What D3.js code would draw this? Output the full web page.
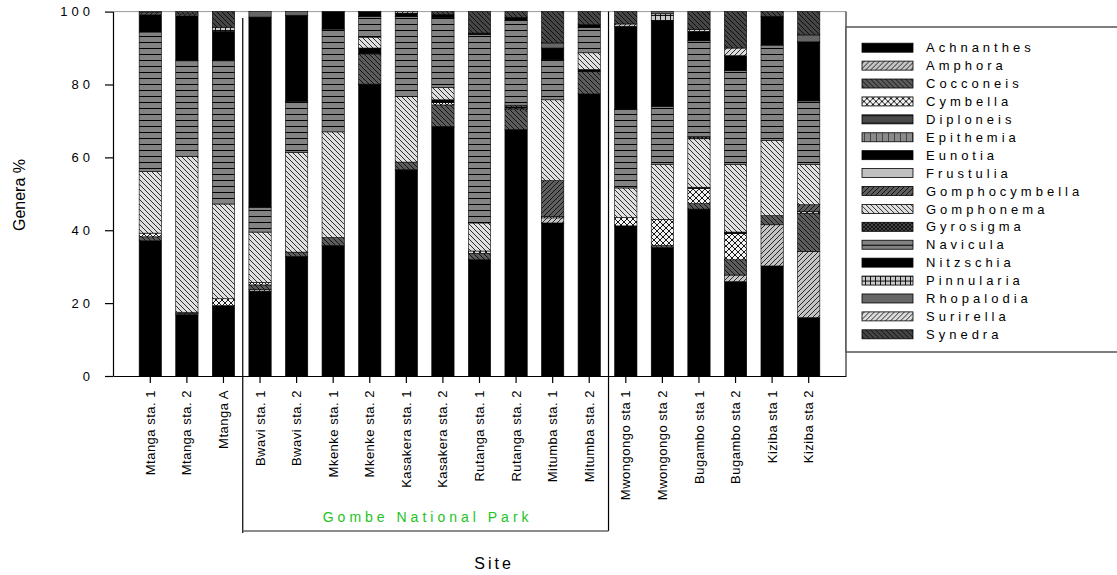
<!DOCTYPE html>
<html>
<head>
<meta charset="utf-8">
<script src="https://cdn.jsdelivr.net/npm/d3@7"></script>
<style>
  body { margin: 0; background: #fff; }
  svg { display: block; font-family: "Liberation Sans", Arial, sans-serif; }
</style>
</head>
<body>
<div id="chart"></div>
<script>
// sites along the x axis
const sites = ['Mtanga sta. 1', 'Mtanga sta. 2', 'Mtanga A', 'Bwavi sta. 1', 'Bwavi sta. 2',
  'Mkenke sta. 1', 'Mkenke sta. 2', 'Kasakera sta. 1', 'Kasakera sta. 2', 'Rutanga sta. 1',
  'Rutanga sta. 2', 'Mitumba sta. 1', 'Mitumba sta. 2', 'Mwongongo sta 1', 'Mwongongo sta 2',
  'Bugambo sta 1', 'Bugambo sta 2', 'Kiziba sta 1', 'Kiziba sta 2'];

const genera = ['Achnanthes', 'Amphora', 'Cocconeis', 'Cymbella', 'Diploneis', 'Epithemia',
  'Eunotia', 'Frustulia', 'Gomphocymbella', 'Gomphonema', 'Gyrosigma', 'Navicula',
  'Nitzschia', 'Pinnularia', 'Rhopalodia', 'Surirella', 'Synedra'];

const yTicks = [0, 20, 40, 60, 80, 100];

// % of each genus per site (same order as sites)
const achnanthes     = [37.1, 16.8, 19.3, 23.3, 32.8, 35.8, 80.1, 56.6, 68.5, 31.9, 67.6, 42.0, 77.4, 41.2, 35.2, 45.8, 25.9, 30.2, 16.0];
const amphora        = [0, 0, 0, 0.5, 0, 0, 0, 0, 0, 0, 0, 1.4, 0, 0, 0, 0, 1.8, 11.3, 18.2];
const cocconeis      = [1.1, 0.4, 0, 1.2, 1.2, 2.2, 8.3, 2.1, 5.9, 1.8, 5.5, 0, 6.1, 0, 0.6, 1.5, 4.2, 2.5, 10.5];
const cymbella       = [1.0, 0.3, 1.9, 0.7, 0, 0, 0, 0, 0.6, 0.6, 0.4, 0.4, 0, 2.3, 7.2, 4.2, 7.2, 0, 0.5];
const diploneis      = [0, 0, 0, 0, 0, 0, 0, 0, 0, 0, 0, 0, 0, 0, 0, 0, 0, 0, 0];
const epithemia      = [0, 0, 0, 0, 0, 0, 0, 0, 0, 0, 0, 0, 0, 0, 0, 0, 0, 0, 0];
const eunotia        = [0, 0, 0, 0, 0, 0, 1.6, 0, 0.8, 0, 0.4, 0, 0.6, 0, 0, 0.3, 0.4, 0, 0];
const frustulia      = [0, 0, 0, 0, 0, 0, 0, 0, 0, 0, 0, 0, 0, 0, 0, 0, 0, 0, 0];
const gomphocymbella = [0, 0, 0, 0, 0, 0, 0, 0, 0, 0, 0, 9.8, 0, 0, 0, 0, 0, 0, 1.8];
const gomphonema     = [16.9, 42.8, 26.0, 13.8, 27.4, 29.0, 3.0, 18.0, 3.4, 7.7, 0.4, 22.2, 4.6, 8.1, 15.0, 13.3, 18.5, 20.6, 11.0];
const gyrosigma      = [0, 0, 0, 0, 0, 0, 0, 0, 0, 0, 0, 0, 0, 0, 0, 0.6, 0, 0, 0];
const navicula       = [38.3, 26.2, 39.3, 6.8, 14.0, 28.2, 5.7, 21.9, 19.2, 51.7, 23.2, 11.0, 6.9, 21.5, 16.0, 26.3, 25.8, 26.2, 17.5];
const nitzschia      = [4.8, 12.4, 8.1, 52.2, 23.6, 4.8, 1.3, 1.0, 0.8, 0.4, 0.9, 3.2, 0.8, 22.9, 23.5, 2.6, 4.1, 7.9, 16.2];
const pinnularia     = [0, 0, 1.1, 0, 0, 0, 0, 0, 0, 0, 0, 0, 0, 0, 1.9, 0, 0, 0, 0];
const rhopalodia     = [0, 0, 0, 1.5, 1.0, 0, 0, 0, 0, 0, 0, 1.4, 0, 0, 0.6, 0, 0, 0, 1.9];
const surirella      = [0.4, 0.4, 0, 0, 0, 0, 0, 0.4, 0, 0, 0, 0, 0, 0.6, 0, 0.5, 2.1, 0, 0];
const synedra        = [0.4, 0.7, 4.3, 0, 0, 0, 0, 0, 0.8, 5.9, 1.6, 8.6, 3.6, 3.4, 0, 4.9, 10.0, 1.3, 6.4];

const parkName = 'Gombe National Park';
const parkFirst = 'Bwavi sta. 1';
const parkLast = 'Mitumba sta. 2';

const series = [achnanthes, amphora, cocconeis, cymbella, diploneis, epithemia, eunotia,
  frustulia, gomphocymbella, gomphonema, gyrosigma, navicula, nitzschia, pinnularia,
  rhopalodia, surirella, synedra];

const width = 1117;
const height = 575;

const svg = d3.select('#chart')
  .append('svg')
  .attr('width', width)
  .attr('height', height);

// fill patterns (SigmaPlot style hatches)
const defs = svg.append('defs');
function pattern(id, w, h, bg, paths, sw) {
  const p = defs.append('pattern')
    .attr('id', id)
    .attr('patternUnits', 'userSpaceOnUse')
    .attr('width', w)
    .attr('height', h);
  p.append('rect').attr('width', w).attr('height', h).attr('fill', bg);
  paths.forEach(function (d) {
    p.append('path').attr('d', d).attr('stroke', '#000')
      .attr('stroke-width', sw || 0.8).attr('fill', 'none');
  });
  return 'url(#' + id + ')';
}
const s = 5;
const fwd = 'M-1,1 L1,-1 M0,' + s + ' L' + s + ',0 M' + (s - 1) + ',' + (s + 1) + ' L' + (s + 1) + ',' + (s - 1);
const back = 'M-1,' + (s - 1) + ' L1,' + (s + 1) + ' M0,0 L' + s + ',' + s + ' M' + (s - 1) + ',-1 L' + (s + 1) + ',1';

const fills = [
  '#000',                                                      // Achnanthes
  pattern('amph', s, s, '#c4c4c4', [fwd]),                     // Amphora
  pattern('cocc', s, s, '#5c5c5c', [back]),                    // Cocconeis
  pattern('cymb', 6, 6, '#f2f2f2', ['M0,0 L6,6 M0,6 L6,0'], 0.9), // Cymbella
  pattern('dipl', 8, 8, '#4a4a4a', ['M0,4 L8,4'], 1),          // Diploneis
  pattern('epit', 6, 6, '#8a8a8a', ['M0,0 L0,6'], 1),          // Epithemia
  '#000',                                                      // Eunotia
  '#c0c0c0',                                                   // Frustulia
  pattern('gcym', s, s, '#5e5e5e', [fwd]),                     // Gomphocymbella
  pattern('gomp', s, s, '#e0e0e0', [back]),                    // Gomphonema
  pattern('gyro', 4, 4, '#4a4a4a', ['M0,0 L4,4 M0,4 L4,0'], 0.8), // Gyrosigma
  pattern('navi', 6, 6, '#838383', ['M0,0.5 L6,0.5'], 1),      // Navicula
  '#000',                                                      // Nitzschia
  pattern('pinn', 5, 5, '#c8c8c8', ['M0,0.5 L5,0.5 M0.5,0 L0.5,5'], 0.9), // Pinnularia
  '#666',                                                      // Rhopalodia
  pattern('suri', s, s, '#dcdcdc', [fwd]),                     // Surirella
  pattern('syne', s, s, '#464646', [back])                     // Synedra
];

const x0 = 113, x1 = 846, yBottom = 376, yTop = 11.6;

const xScale = d3.scaleBand()
  .domain(sites)
  .range([x0, x1])
  .paddingInner(0.39)
  .paddingOuter(0.715);

const yScale = d3.scaleLinear()
  .domain([0, 100])
  .range([yBottom, yTop]);

const table = sites.map(function (site, i) {
  const row = { site: site };
  genera.forEach(function (g, j) { row[g] = series[j][i]; });
  return row;
});
const stacked = d3.stack().keys(genera)(table);

// frame: top and right edges
svg.append('line')
  .attr('x1', x0).attr('x2', x1).attr('y1', yTop).attr('y2', yTop)
  .attr('stroke', '#9a9a9a').attr('stroke-width', 1);
svg.append('line')
  .attr('x1', x1).attr('x2', x1).attr('y1', yTop).attr('y2', yBottom)
  .attr('stroke', '#000').attr('stroke-width', 1);

// bars
svg.selectAll('g.layer')
  .data(stacked)
  .enter().append('g')
  .attr('class', 'layer')
  .attr('fill', function (d, i) { return fills[i]; })
  .selectAll('rect')
  .data(function (d) { return d.filter(function (v) { return v[1] - v[0] > 0; }); })
  .enter().append('rect')
  .attr('x', function (d) { return xScale(d.data.site); })
  .attr('y', function (d) { return yScale(d[1]); })
  .attr('width', xScale.bandwidth())
  .attr('height', function (d) { return yScale(d[0]) - yScale(d[1]); })
  .attr('stroke', '#000')
  .attr('stroke-width', 0.6);

// y axis
const yAxis = d3.axisLeft(yScale)
  .tickValues(yTicks)
  .tickSize(8)
  .tickSizeOuter(0)
  .tickPadding(11);
const gy = svg.append('g')
  .attr('transform', 'translate(' + x0 + ',0)')
  .call(yAxis);
gy.selectAll('text')
  .attr('font-size', 13)
  .attr('fill', '#000')
  .style('letter-spacing', '4px')
  .attr('font-family', '"Liberation Sans", Arial, sans-serif');
gy.selectAll('path, line').attr('stroke', '#000').attr('stroke-width', 1.2);

// x axis
const xAxis = d3.axisBottom(xScale)
  .tickSize(7)
  .tickSizeOuter(0);
const gx = svg.append('g')
  .attr('transform', 'translate(0,' + yBottom + ')')
  .call(xAxis);
gx.selectAll('path, line').attr('stroke', '#000').attr('stroke-width', 1.2);
gx.selectAll('text')
  .attr('font-size', 13)
  .attr('fill', '#000')
  .attr('font-family', '"Liberation Sans", Arial, sans-serif')
  .style('letter-spacing', '0.5px')
  .attr('text-anchor', 'end')
  .attr('x', 0)
  .attr('y', 0)
  .attr('dy', '0.35em')
  .attr('transform', 'translate(0,14) rotate(-90)');

// park bracket
const step = xScale.step();
const leftSep = xScale(parkFirst) - (step - xScale.bandwidth()) / 2 + 1;
const rightSep = xScale(parkLast) + xScale.bandwidth() + (step - xScale.bandwidth()) / 2 + 1;
const bracketY = 531;
svg.append('line')
  .attr('x1', leftSep).attr('x2', leftSep).attr('y1', 18).attr('y2', bracketY + 2)
  .attr('stroke', '#000').attr('stroke-width', 1.2);
svg.append('line')
  .attr('x1', rightSep).attr('x2', rightSep).attr('y1', yTop).attr('y2', bracketY)
  .attr('stroke', '#000').attr('stroke-width', 1.2);
svg.append('line')
  .attr('x1', leftSep).attr('x2', rightSep).attr('y1', bracketY).attr('y2', bracketY)
  .attr('stroke', '#666').attr('stroke-width', 1.5);
svg.append('text')
  .attr('x', (leftSep + rightSep) / 2 + 2)
  .attr('y', 522)
  .attr('text-anchor', 'middle')
  .attr('font-size', 14)
  .style('letter-spacing', '4px')
  .attr('fill', '#22c422')
  .text(parkName);

// axis titles
svg.append('text')
  .attr('transform', 'translate(25,195) rotate(-90)')
  .attr('text-anchor', 'middle')
  .attr('font-size', 16)
  .attr('fill', '#000')
  .text('Genera %');
svg.append('text')
  .attr('x', 494)
  .attr('y', 569)
  .attr('text-anchor', 'middle')
  .attr('font-size', 16)
  .style('letter-spacing', '3px')
  .attr('fill', '#000')
  .text('Site');

// legend
const legend = svg.append('g');
legend.append('rect')
  .attr('x', 846).attr('y', 27)
  .attr('width', 300).attr('height', 325)
  .attr('fill', '#fff')
  .attr('stroke', '#555')
  .attr('stroke-width', 1.5);
const rowY = d3.scalePoint().domain(genera).range([47.7, 334.3]);
const items = legend.selectAll('g.item')
  .data(genera)
  .enter().append('g')
  .attr('class', 'item')
  .attr('transform', function (d) { return 'translate(0,' + rowY(d) + ')'; });
items.append('rect')
  .attr('x', 862).attr('y', -4.5)
  .attr('width', 51).attr('height', 9)
  .attr('fill', function (d, i) { return fills[i]; })
  .attr('stroke', '#000')
  .attr('stroke-width', 0.8);
items.append('text')
  .attr('x', 926)
  .attr('y', 4.6)
  .attr('font-size', 13)
  .style('letter-spacing', '4px')
  .attr('fill', '#000')
  .text(function (d) { return d; });
</script>
</body>
</html>
